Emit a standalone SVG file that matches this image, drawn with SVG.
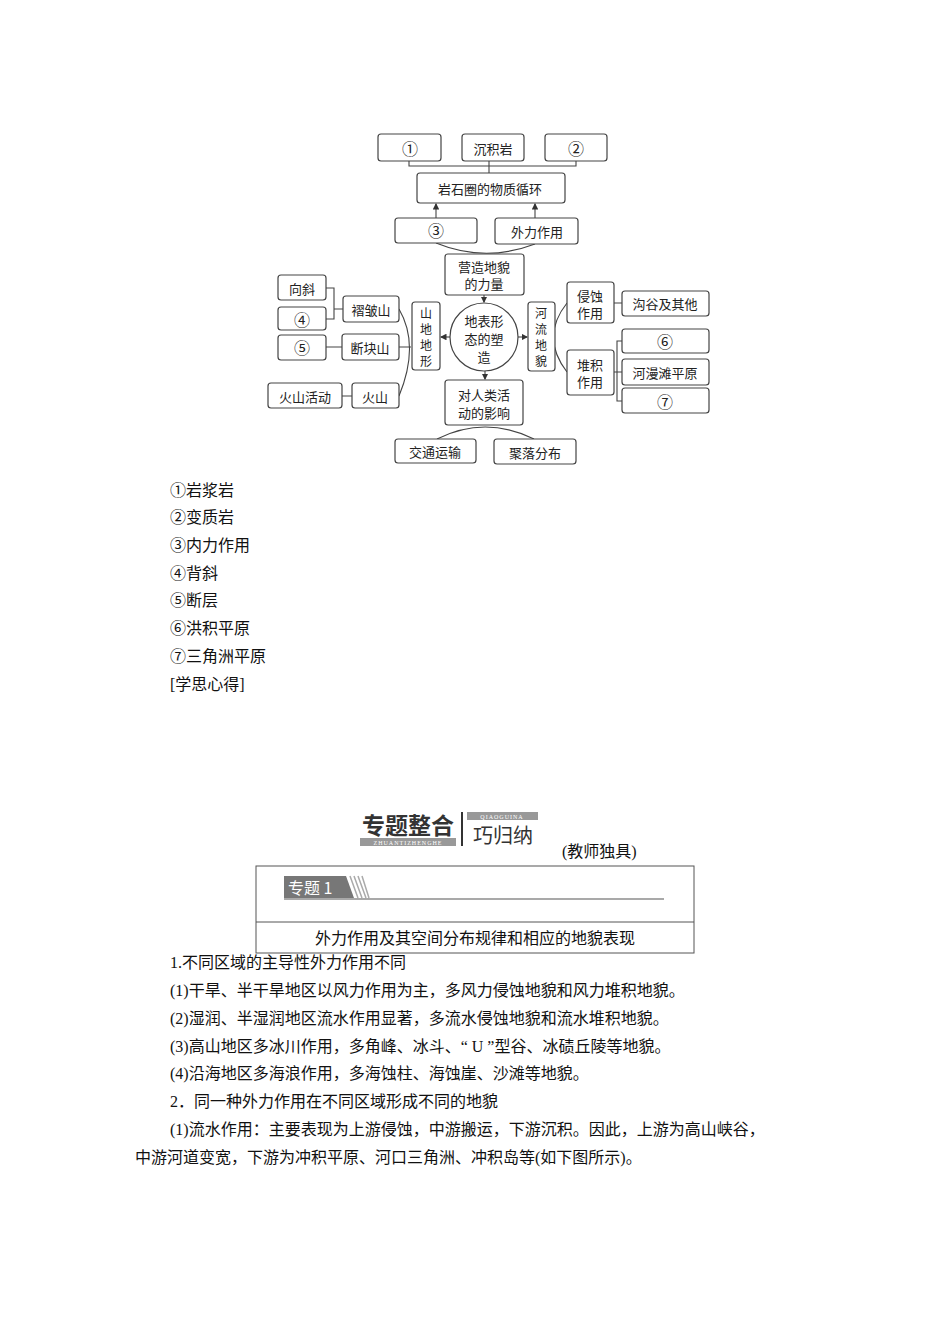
<svg xmlns="http://www.w3.org/2000/svg" width="950" height="1344" viewBox="0 0 950 1344">
<style>
.b{fill:#fff;stroke:#444;stroke-width:1.2}
.t{font-family:"Noto Sans CJK SC","Liberation Serif",serif;font-size:13px;fill:#222;text-anchor:middle;dominant-baseline:central}
.v{font-size:12px}
.n{font-size:16px}
.p{font-family:"Liberation Serif","Noto Sans CJK SC",serif;font-size:16px;fill:#111}
.l{fill:none;stroke:#444;stroke-width:1.1}
</style>
<defs><marker id="a" viewBox="0 0 6 6" refX="5" refY="3" markerWidth="6" markerHeight="6" orient="auto"><path d="M0,0L6,3L0,6z" fill="#333"/></marker></defs>
<rect width="950" height="1344" fill="#fff"/>
<g id="connectors">
<path class="l" d="M409,161V166H576V161M489,161V173"/>
<path class="l" d="M436,218V204" marker-end="url(#a)"/>
<path class="l" d="M535,218V204" marker-end="url(#a)"/>
<path class="l" d="M436,243Q485,263 535,244"/>
<path class="l" d="M484,295V302" marker-end="url(#a)"/>
<path class="l" d="M485,371V379" marker-end="url(#a)"/>
<path class="l" d="M437,439Q485,415 534,439"/>
<path class="l" d="M450,337H441" marker-end="url(#a)"/>
<path class="l" d="M518,337H527" marker-end="url(#a)"/>
<path class="l" d="M326,288H334V319H326M334,309H343"/>
<path class="l" d="M326,347H342M342,396H352"/>
<path class="l" d="M399,309Q420,345 399,396M399,347H411"/>
<path class="l" d="M567,303Q540,337 567,372"/>
<path class="l" d="M614,303H622M614,372H617M622,341H617V401H622M617,372H622"/>
</g>
<g id="n1"><rect class="b" x="378" y="134" width="63" height="27" rx="3"/><text class="t n" x="410" y="148">①</text></g>
<g id="n2"><rect class="b" x="462" y="134" width="62" height="27" rx="3"/><text class="t" x="493" y="148">沉积岩</text></g>
<g id="n3"><rect class="b" x="545" y="134" width="62" height="27" rx="3"/><text class="t n" x="576" y="148">②</text></g>
<g id="n4"><rect class="b" x="417" y="173" width="148" height="30" rx="3"/><text class="t" x="490" y="188">岩石圈的物质循环</text></g>
<g id="n5"><rect class="b" x="395" y="218" width="82" height="25" rx="3"/><text class="t n" x="436" y="230">③</text></g>
<g id="n6"><rect class="b" x="495" y="218" width="83" height="26" rx="3"/><text class="t" x="537" y="231">外力作用</text></g>
<g id="n7"><rect class="b" x="445" y="254" width="79" height="41" rx="3"/><text class="t" x="484" y="266">营造地貌</text><text class="t" x="484" y="283">的力量</text></g>
<g id="n8"><circle class="b" cx="484" cy="337" r="34"/><text class="t" x="484" y="320">地表形</text><text class="t" x="484" y="338">态的塑</text><text class="t" x="484" y="356">造</text></g>
<g id="n9"><rect class="b" x="445" y="380" width="78" height="45" rx="3"/><text class="t" x="484" y="394">对人类活</text><text class="t" x="484" y="412">动的影响</text></g>
<g id="n10"><rect class="b" x="395" y="439" width="81" height="24" rx="3"/><text class="t" x="435" y="451">交通运输</text></g>
<g id="n11"><rect class="b" x="494" y="439" width="82" height="25" rx="3"/><text class="t" x="535" y="452">聚落分布</text></g>
<g id="n12"><rect class="b" x="412" y="302" width="28" height="68" rx="3"/><text class="t v" x="426" y="312">山</text><text class="t v" x="426" y="328">地</text><text class="t v" x="426" y="344">地</text><text class="t v" x="426" y="360">形</text></g>
<g id="n13"><rect class="b" x="528" y="302" width="27" height="69" rx="3"/><text class="t v" x="541" y="312">河</text><text class="t v" x="541" y="328">流</text><text class="t v" x="541" y="344">地</text><text class="t v" x="541" y="360">貌</text></g>
<g id="n14"><rect class="b" x="278" y="275" width="48" height="25" rx="3"/><text class="t" x="302" y="288">向斜</text></g>
<g id="n15"><rect class="b" x="278" y="307" width="48" height="23" rx="3"/><text class="t n" x="302" y="319">④</text></g>
<g id="n16"><rect class="b" x="343" y="296" width="56" height="26" rx="3"/><text class="t" x="371" y="309">褶皱山</text></g>
<g id="n17"><rect class="b" x="278" y="335" width="48" height="25" rx="3"/><text class="t n" x="302" y="347">⑤</text></g>
<g id="n18"><rect class="b" x="342" y="334" width="57" height="26" rx="3"/><text class="t" x="370" y="347">断块山</text></g>
<g id="n19"><rect class="b" x="268" y="383" width="74" height="25" rx="3"/><text class="t" x="305" y="396">火山活动</text></g>
<g id="n20"><rect class="b" x="352" y="383" width="47" height="25" rx="3"/><text class="t" x="375" y="396">火山</text></g>
<g id="n21"><rect class="b" x="567" y="282" width="47" height="41" rx="3"/><text class="t" x="590" y="295">侵蚀</text><text class="t" x="590" y="312">作用</text></g>
<g id="n22"><rect class="b" x="622" y="291" width="87" height="25" rx="3"/><text class="t" x="665" y="303">沟谷及其他</text></g>
<g id="n23"><rect class="b" x="567" y="350" width="47" height="45" rx="3"/><text class="t" x="590" y="364">堆积</text><text class="t" x="590" y="381">作用</text></g>
<g id="n24"><rect class="b" x="622" y="329" width="87" height="24" rx="3"/><text class="t n" x="665" y="341">⑥</text></g>
<g id="n25"><rect class="b" x="622" y="359" width="87" height="26" rx="3"/><text class="t" x="665" y="372">河漫滩平原</text></g>
<g id="n26"><rect class="b" x="622" y="388" width="87" height="25" rx="3"/><text class="t n" x="665" y="401">⑦</text></g>
<g id="answers" class="p">
<text x="170" y="496">①岩浆岩</text><text x="170" y="523">②变质岩</text><text x="170" y="551">③内力作用</text><text x="170" y="579">④背斜</text><text x="170" y="606">⑤断层</text><text x="170" y="634">⑥洪积平原</text><text x="170" y="662">⑦三角洲平原</text><text x="170" y="690">[学思心得]</text>
</g>
<g id="header">
<text x="408" y="834" font-family="Noto Sans CJK SC,sans-serif" font-weight="bold" font-size="23" fill="#333" text-anchor="middle">专题整合</text>
<rect x="360" y="838" width="96" height="8" fill="#999"/>
<text x="408" y="844.5" font-family="Liberation Serif,serif" font-size="6" fill="#fff" text-anchor="middle" letter-spacing="1">ZHUANTIZHENGHE</text>
<line x1="462" y1="812" x2="462" y2="846" stroke="#333" stroke-width="2"/>
<rect x="467" y="812" width="71" height="8" fill="#999"/>
<text x="502" y="818.5" font-family="Liberation Serif,serif" font-size="6" fill="#fff" text-anchor="middle" letter-spacing="1">QIAOGUINA</text>
<text x="503" y="843" font-family="Noto Sans CJK SC,sans-serif" font-size="20" fill="#333" text-anchor="middle">巧归纳</text>
<text x="562" y="857" class="p">(教师独具)</text>
<rect x="256" y="866" width="438" height="87" fill="none" stroke="#555"/>
<line x1="256" y1="922" x2="694" y2="922" stroke="#555"/>
<path d="M284,876H346L354,898H284z" fill="#777"/>
<path d="M350,876L358,898M354,876L362,898M358,876L366,898M362,876L369,898" stroke="#aaa" stroke-width="1.5"/>
<text x="288" y="894" font-family="Noto Sans CJK SC,sans-serif" font-size="16" fill="#fff">专题 1</text>
<line x1="284" y1="899" x2="664" y2="899" stroke="#555" stroke-width="1.2"/>
<text x="475" y="938" class="p" text-anchor="middle" dominant-baseline="central">外力作用及其空间分布规律和相应的地貌表现</text>
</g>
<g id="body" class="p">
<text x="170" y="968">1.不同区域的主导性外力作用不同</text>
<text x="170" y="996">(1)干旱、半干旱地区以风力作用为主，多风力侵蚀地貌和风力堆积地貌。</text>
<text x="170" y="1024">(2)湿润、半湿润地区流水作用显著，多流水侵蚀地貌和流水堆积地貌。</text>
<text x="170" y="1052">(3)高山地区多冰川作用，多角峰、冰斗、“ U ”型谷、冰碛丘陵等地貌。</text>
<text x="170" y="1079">(4)沿海地区多海浪作用，多海蚀柱、海蚀崖、沙滩等地貌。</text>
<text x="170" y="1107">2．同一种外力作用在不同区域形成不同的地貌</text>
<text x="170" y="1135">(1)流水作用：主要表现为上游侵蚀，中游搬运，下游沉积。因此，上游为高山峡谷，</text>
<text x="135" y="1163">中游河道变宽，下游为冲积平原、河口三角洲、冲积岛等(如下图所示)。</text>
</g>
</svg>
